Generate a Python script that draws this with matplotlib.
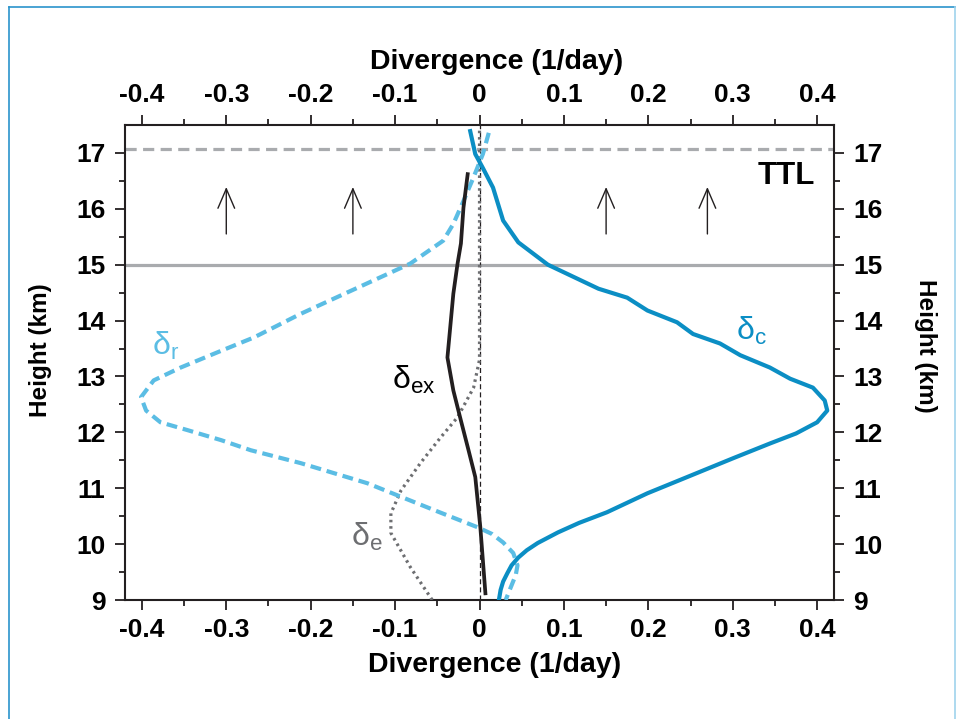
import numpy as np
import matplotlib
matplotlib.use('Agg')
import matplotlib.pyplot as plt
from matplotlib.lines import Line2D

plt.rcParams['font.family'] = ['Liberation Sans', 'DejaVu Sans']
plt.rcParams['mathtext.default'] = 'regular'

# convective divergence (solid blue)
dc_x = [-0.011, -0.005, 0.004, 0.016, 0.028, 0.046, 0.081, 0.141, 0.175, 0.199, 0.234,
        0.253, 0.285, 0.309, 0.344, 0.368, 0.395, 0.409, 0.412, 0.400, 0.375, 0.344,
        0.301, 0.246, 0.199, 0.151, 0.118, 0.093, 0.069, 0.056, 0.046, 0.038, 0.033,
        0.028, 0.025, 0.023]
dc_z = [17.39, 16.98, 16.73, 16.38, 15.79, 15.40, 15.00, 14.57, 14.41, 14.18, 13.97,
        13.76, 13.59, 13.38, 13.16, 12.96, 12.80, 12.57, 12.39, 12.18, 11.98, 11.80,
        11.54, 11.20, 10.91, 10.57, 10.38, 10.21, 10.02, 9.89, 9.76, 9.62, 9.48,
        9.33, 9.18, 9.0]

# radiative divergence (dashed light blue)
dr_x = [0.011, 0.004, -0.008, -0.019, -0.031, -0.043, -0.082, -0.160, -0.212, -0.267,
        -0.306, -0.354, -0.386, -0.401, -0.395, -0.378, -0.346, -0.306, -0.271, -0.212,
        -0.133, -0.054, -0.002, 0.015, 0.028, 0.040, 0.045, 0.043, 0.039, 0.031]
dr_z = [17.36, 16.98, 16.53, 16.14, 15.73, 15.43, 15.02, 14.48, 14.12, 13.70,
        13.46, 13.16, 12.93, 12.63, 12.39, 12.18, 12.04, 11.86, 11.68, 11.45,
        11.09, 10.61, 10.30, 10.18, 10.03, 9.84, 9.62, 9.45, 9.30, 9.0]

# residual divergence (solid black)
dex_x = [-0.014, -0.019, -0.022, -0.026, -0.031, -0.038, -0.031, -0.022, -0.013, -0.005, 0.001, 0.007]
dex_z = [16.62, 16.02, 15.38, 15.02, 14.48, 13.34, 12.75, 12.21, 11.68, 11.20, 10.30, 9.12]

# entrainment divergence (dotted grey)
de_x = [-0.056, -0.082, -0.105, -0.105, -0.093, -0.070, -0.046, -0.026, -0.007, 0.0, 0.0]
de_z = [9.0, 9.59, 10.2, 10.55, 10.96, 11.45, 11.91, 12.27, 12.8, 13.3, 17.4]

arrow_x = [-0.3, -0.15, 0.15, 0.27]
ticks = [-0.4, -0.3, -0.2, -0.1, 0, 0.1, 0.2, 0.3, 0.4]
tick_labels = ['-0.4', '-0.3', '-0.2', '-0.1', '0', '0.1', '0.2', '0.3', '0.4']

c_blue = '#0b8ec4'
c_light = '#5bbde4'
c_grey = '#a9abae'
c_dark = '#231f20'
c_dgrey = '#6d6e71'

fig = plt.figure(figsize=(9.57, 7.19), dpi=100)
ax = fig.add_axes([125/957, 1-600/719, (834-125)/957, (600-125)/719])

ax.axhline(15.0, color=c_grey, lw=2.3, zorder=1)
ax.axhline(17.07, color=c_grey, lw=2.3, dashes=(3.5, 2), zorder=1)
ax.plot([0, 0], [9, 17.5], color=c_dark, lw=0.9, dashes=(4, 2.5), zorder=2)

ax.plot(de_x, de_z, color=c_dgrey, lw=2.3, dashes=(0.8, 1.2), zorder=3)
ax.plot(dr_x, dr_z, color=c_light, lw=3, dashes=(2.6, 1.4), zorder=4)
ax.plot(dex_x, dex_z, color=c_dark, lw=2.7, zorder=5)
ax.plot(dc_x, dc_z, color=c_blue, lw=3, zorder=6)

for xa in arrow_x:
    ax.annotate('', xy=(xa, 16.39), xytext=(xa, 15.55),
                arrowprops=dict(arrowstyle='->,head_length=0.7,head_width=0.3',
                                lw=1, color=c_dark, mutation_scale=20, shrinkA=0, shrinkB=0))

ax.text(0.363, 16.59, 'TTL', fontsize=22.5, fontweight='bold', color='black', ha='center', va='center')
ax.text(-0.372, 13.55, r'$δ_r$', fontsize=23, color=c_light, ha='center', va='center')
ax.text(0.322, 13.82, r'$δ_c$', fontsize=23, color=c_blue, ha='center', va='center')
ax.text(-0.078, 12.93, r'$δ_{ex}$', fontsize=23, color='black', ha='center', va='center')
ax.text(-0.133, 10.12, r'$δ_e$', fontsize=23, color=c_dgrey, ha='center', va='center')

ax.set_xlim(-0.42, 0.42)
ax.set_ylim(9, 17.5)
ax.set_xticks(ticks)
ax.set_xticklabels(tick_labels)
ax.set_xticks(np.arange(-0.35, 0.4, 0.1), minor=True)
ax.set_yticks(range(9, 18))
ax.set_yticks(np.arange(9.5, 17.5, 1.0), minor=True)

for s in ax.spines.values():
    s.set_color(c_dark)
    s.set_linewidth(1.5)

ax.tick_params(which='major', direction='out', length=7.5, width=1.3, color=c_dark,
               labelsize=19, top=True, right=True, labeltop=True, labelright=True)
ax.tick_params(which='minor', direction='out', length=4.5, width=1.3, color=c_dark,
               top=True, right=True)
ax.tick_params(axis='x', which='major', pad=5.5)
ax.tick_params(axis='y', which='major', pad=6.5)
for lab in ax.get_xticklabels() + ax.get_yticklabels():
    lab.set_fontweight('bold')

fig.text(495/957, 1-665/719, 'Divergence (1/day)', fontsize=20.5, fontweight='bold', ha='center', va='center')
fig.text(497/957, 1-62/719, 'Divergence (1/day)', fontsize=20.5, fontweight='bold', ha='center', va='center')
fig.text(40/957, 1-350/719, 'Height (km)', fontsize=17.5, fontweight='bold', rotation=90, ha='center', va='center')
fig.text(926/957, 1-346/719, 'Height (km)', fontsize=17.5, fontweight='bold', rotation=270, ha='center', va='center')

# light blue frame around the figure
fig.add_artist(Line2D([9/957, 9/957], [0, 1-7/719], color='#2a94cc', lw=1.2))
fig.add_artist(Line2D([9/957, 955/957], [1-7/719, 1-7/719], color='#2a94cc', lw=1.2))
fig.add_artist(Line2D([955/957, 955/957], [0, 1-7/719], color='#9fd3ec', lw=1.2))

plt.savefig('out.png', dpi=100)
